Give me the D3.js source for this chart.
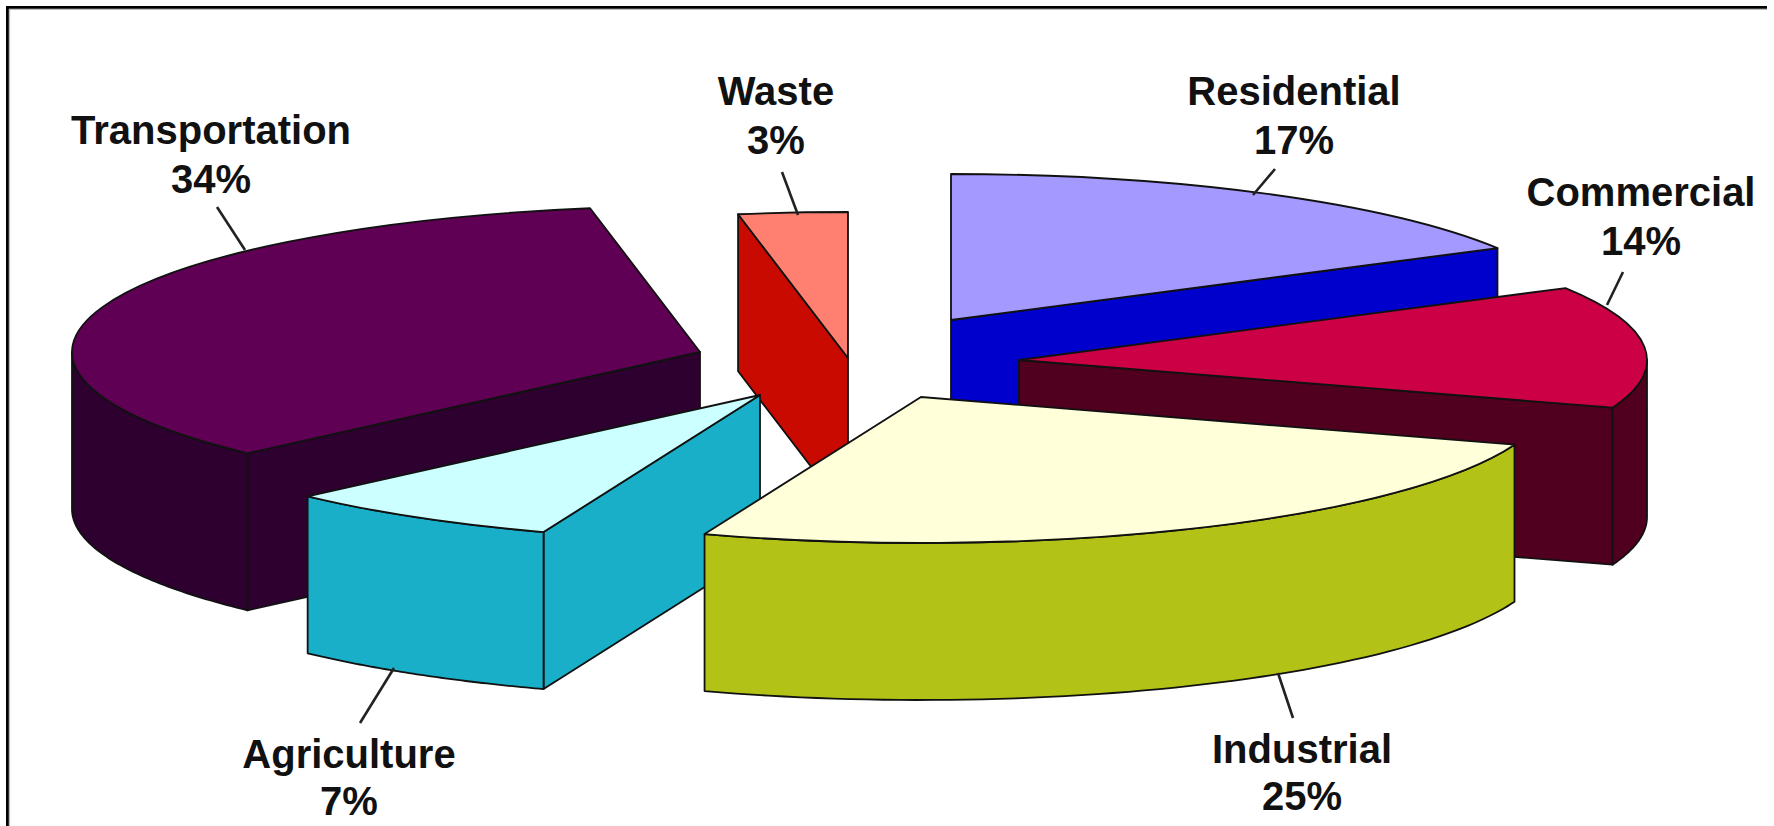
<!DOCTYPE html>
<html><head><meta charset="utf-8">
<script src="https://cdn.jsdelivr.net/npm/d3@7/dist/d3.min.js"></script>
<style>html,body{margin:0;padding:0;background:#fff}svg{display:block}</style>
</head><body><svg id="chart" width="1774" height="826"></svg>
<script>
// Data, in clockwise pie order from 12 o'clock
const categories = ["Residential","Commercial","Industrial","Agriculture","Transportation","Waste"];
const shares = [16.8,13.5,25.3,7.2,34.4,2.8];
const topColors = ["#A499FF","#CC0044","#FFFFD9","#CCFFFF","#600055","#FF8070"];
const sideColors = ["#0000CC","#50001E","#B3C217","#19AFC8","#2E0030","#C80A00"];

// Layout, kept apart from the data
const W = 1774, H = 826;
const RX = 628, RY = 146, DEPTH = 157;
const apexes = {
  Residential:[951,320], Commercial:[1019,360], Industrial:[921,397],
  Agriculture:[760,395], Transportation:[700,352], Waste:[848,358]
};
const drawOrder = ["Residential","Waste","Commercial","Transportation","Agriculture","Industrial"];
const labelPos = {
  Transportation:{x:211,y1:144,y2:193,leader:[[217,207],[245,250]]},
  Waste:{x:776,y1:105,y2:154,leader:[[782,172],[798,215]]},
  Residential:{x:1294,y1:105,y2:154,leader:[[1275,169],[1253,195]]},
  Commercial:{x:1641,y1:206,y2:255,leader:[[1623,272],[1607,305]]},
  Industrial:{x:1302,y1:763,y2:810,leader:[[1278,673],[1293,718]]},
  Agriculture:{x:349,y1:768,y2:815,leader:[[394,668],[360,723]]}
};

const svg = d3.select("#chart");
svg.append("rect").attr("width",W).attr("height",H).attr("fill","#fff");

const pie = d3.pie().sort(null).startAngle(0).endAngle(2*Math.PI);
const slices = pie(shares).map((d,i)=>({...d,name:categories[i],top:topColors[i],side:sideColors[i]}));
const arc = d3.arc().innerRadius(0).outerRadius(100);
const line = d3.line();
const STROKE = "#111", SW = 1.8;

function rim(s,t){const [cx,cy]=apexes[s.name];return [cx+RX*Math.sin(t),cy-RY*Math.cos(t)];}
function cutFace(s,t){
  const a=apexes[s.name], r=rim(s,t);
  return line([a,r,[r[0],r[1]+DEPTH],[a[0],a[1]+DEPTH]])+"Z";
}
const wall = d3.area().x(d=>d.p[0]).y0(d=>d.p[1]).y1(d=>d.p[1]+DEPTH);

const g = svg.append("g").selectAll("g")
  .data(drawOrder.map(n=>slices.find(s=>s.name===n))).join("g");

g.each(function(s){
  const el=d3.select(this);
  const st=s.startAngle, en=s.endAngle;
  const paint=p=>p.attr("fill",s.side).attr("stroke",STROKE).attr("stroke-width",SW).attr("stroke-linejoin","round");
  if(Math.sin(st)<-1e-6) el.append("path").attr("d",cutFace(s,st)).call(paint);
  if(Math.sin(en)>1e-6) el.append("path").attr("d",cutFace(s,en)).call(paint);
  const a0=Math.max(st,Math.PI/2), a1=Math.min(en,3*Math.PI/2);
  if(a1>a0){
    const pts=d3.range(0,61).map(i=>({p:rim(s,a0+(a1-a0)*i/60)}));
    el.append("path").attr("d",wall(pts)).call(paint);
  }
  const [cx,cy]=apexes[s.name];
  el.append("path").attr("d",arc(s))
    .attr("transform",`translate(${cx},${cy}) scale(${RX/100},${RY/100})`)
    .attr("vector-effect","non-scaling-stroke")
    .attr("fill",s.top).attr("stroke",STROKE).attr("stroke-width",SW).attr("stroke-linejoin","round");
});

// Leaders and labels
const labels = svg.append("g").selectAll("g").data(slices).join("g")
  .attr("font-family","'Liberation Sans',Arial,sans-serif").attr("font-weight","bold")
  .attr("font-size",40).attr("text-anchor","middle").attr("fill","#111");
labels.append("path").attr("d",s=>line(labelPos[s.name].leader)).attr("fill","none").attr("stroke","#222").attr("stroke-width",2.6);
labels.append("text").attr("x",s=>labelPos[s.name].x).attr("y",s=>labelPos[s.name].y1).text(s=>s.name);
labels.append("text").attr("x",s=>labelPos[s.name].x).attr("y",s=>labelPos[s.name].y2).text(s=>Math.round(s.data)+"%");

// Frame: black rule with a grey inner edge, open on the right and bottom
svg.append("path").attr("d",line([[9.5,H],[9.5,9.5],[1767,9.5]])).attr("fill","none").attr("stroke","#bbb").attr("stroke-width",1.2);
svg.append("path").attr("d",line([[7.4,H],[7.4,7.4],[1767,7.4]])).attr("fill","none").attr("stroke","#000").attr("stroke-width",2.8);
</script></body></html>
